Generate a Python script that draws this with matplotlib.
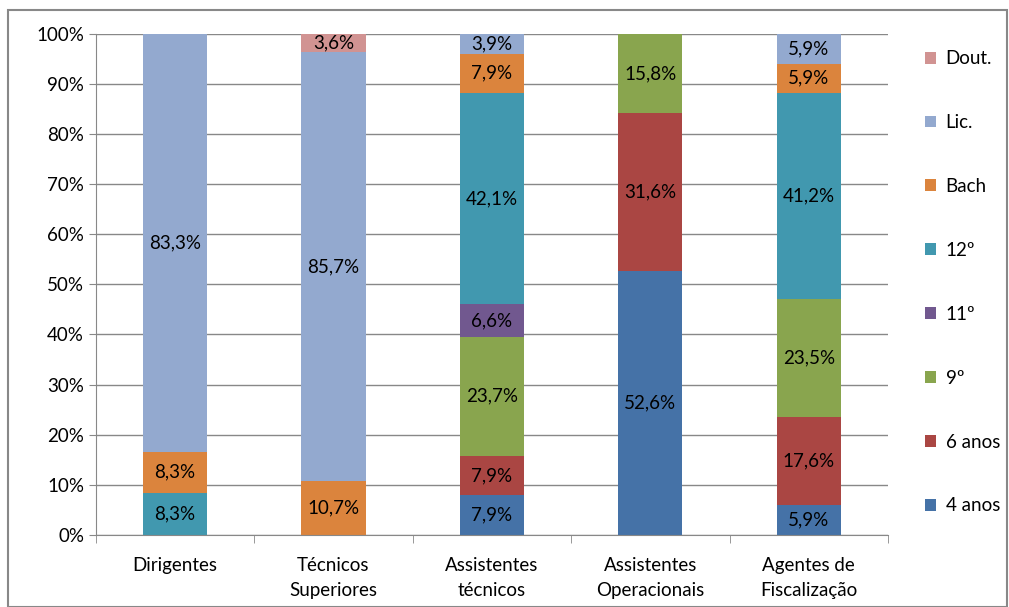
import matplotlib
matplotlib.use("Agg")
import matplotlib.pyplot as plt
import matplotlib.ticker as mticker
import numpy as np

categories = ["Dirigentes", "Técnicos\nSuperiores", "Assistentes\ntécnicos",
              "Assistentes\nOperacionais", "Agentes de\nFiscalização"]
series = ["4 anos", "6 anos", "9º", "11º", "12º", "Bach", "Lic.", "Dout."]
colors = ["#4572A7", "#AA4643", "#89A54E", "#71588F", "#4198AF", "#DB843D", "#93A9CF", "#D19392"]

anos4 = [0, 0, 7.9, 52.6, 5.9]
anos6 = [0, 0, 7.9, 31.6, 17.6]
nono = [0, 0, 23.7, 15.8, 23.5]
onze = [0, 0, 6.6, 0, 0]
doze = [8.3, 0, 42.1, 0, 41.2]
bach = [8.3, 10.7, 7.9, 0, 5.9]
lic = [83.3, 85.7, 3.9, 0, 5.9]
dout = [0, 3.6, 0, 0, 0]
values = [anos4, anos6, nono, onze, doze, bach, lic, dout]


def main() -> None:
    plt.rcParams["font.family"] = ["Lato", "DejaVu Sans"]
    fig = plt.figure(figsize=(10.09, 6.07), dpi=100)
    ax = fig.add_axes([0.095, 0.119, 0.785, 0.825])

    x = np.arange(len(categories))
    data = np.array(values, dtype=float)
    totals = data.sum(axis=0)
    pct = data / totals * 100
    bottom = np.zeros(len(categories))
    for name, vals, raw, color in zip(series, pct, data, colors):
        ax.bar(x, vals, 0.405, bottom=bottom, color=color, label=name, zorder=2)
        for xi, v, r, b in zip(x, vals, raw, bottom):
            if r > 0:
                ax.text(xi, b + v / 2, f"{r:.1f}%".replace(".", ","),
                        ha="center", va="center", fontsize=13.5, color="black", zorder=3)
        bottom += vals

    ax.set_xlim(-0.5, len(categories) - 0.5)
    ax.set_ylim(0, 100)
    ax.yaxis.set_major_locator(mticker.MultipleLocator(10))
    ax.yaxis.set_major_formatter(mticker.PercentFormatter(decimals=0))
    ax.set_xticks(x)
    ax.set_xticklabels(categories, fontsize=13.5, linespacing=1.55)
    ax.tick_params(axis="y", labelsize=13.5, length=5, color="#888888")
    ax.set_xticks(np.arange(-0.5, len(categories)), minor=True)
    ax.tick_params(axis="x", which="minor", length=6, color="#888888")
    ax.tick_params(axis="x", which="major", length=0, pad=16)
    ax.yaxis.grid(True, color="#888888", linewidth=1, zorder=0)
    for side in ["top", "right"]:
        ax.spines[side].set_visible(False)
    ax.spines["left"].set_color("#888888")
    ax.spines["bottom"].set_color("#888888")

    handles, labels = ax.get_legend_handles_labels()
    fig.legend(handles[::-1], labels[::-1], loc="upper left", bbox_to_anchor=(0.9, 0.945),
               frameon=False, fontsize=13.5, labelspacing=2.5, handlelength=0.6,
               handleheight=0.6, handletextpad=0.5)

    fig.patches.append(plt.Rectangle((0.008, 0.0), 0.99, 0.983, transform=fig.transFigure,
                                     fill=False, edgecolor="#888888", linewidth=1.5))
    fig.savefig("out.png", dpi=100)


if __name__ == "__main__":
    main()
